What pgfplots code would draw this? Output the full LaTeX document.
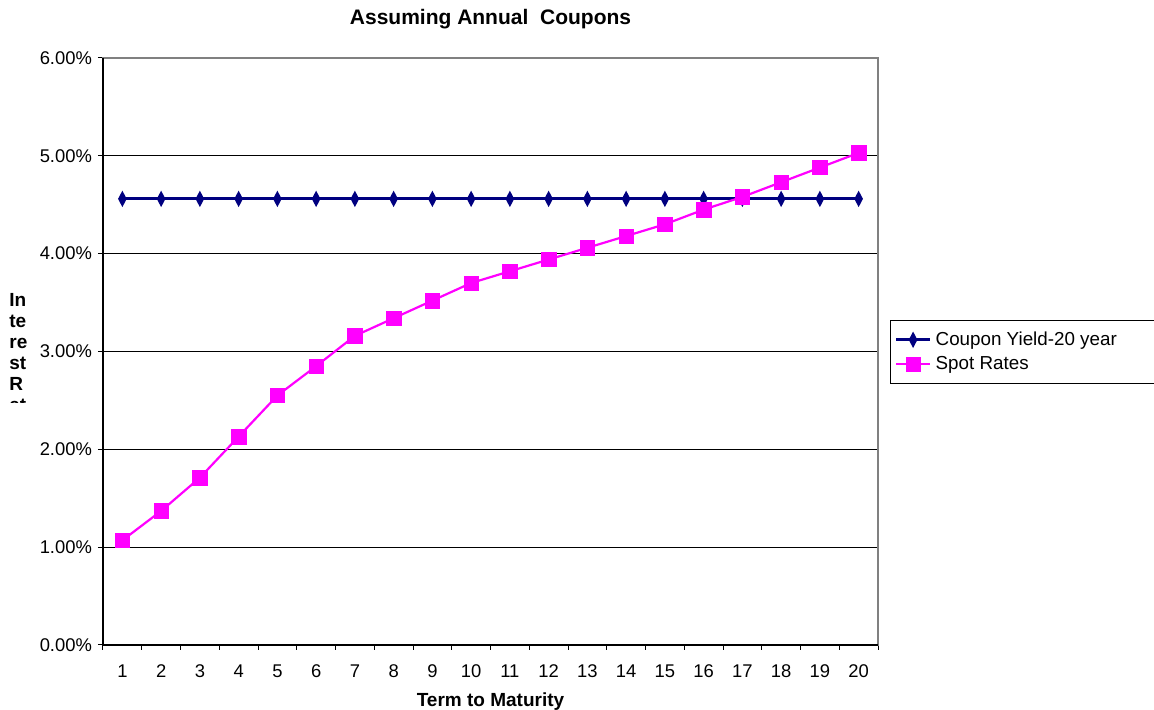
\documentclass[border=0pt]{standalone}
\usepackage{fontspec}
\setmainfont{Liberation Sans}
\usepackage{pgfplots}
\pgfplotsset{compat=1.18}
\definecolor{navy}{RGB}{0,0,128}
\definecolor{mag}{RGB}{255,0,255}
\definecolor{bord}{RGB}{128,128,128}
\begin{document}
\begin{tikzpicture}
\begin{axis}[
  scale only axis, width=387.5pt, height=293.5pt,
  at={(0pt,0pt)}, anchor=south west,
  xmin=0.5, xmax=20.5, ymin=0, ymax=6,
  xtick={1,...,20},
  xticklabels={1,2,3,4,5,6,7,8,9,10,11,12,13,14,15,16,17,18,19,20},
  minor xtick={0.5,1.5,...,20.5},
  major x tick style={draw=none},
  ytick={0,1,2,3,4,5,6},
  yticklabels={0.00\%,1.00\%,2.00\%,3.00\%,4.00\%,5.00\%,6.00\%},
  xtick pos=bottom, ytick pos=left,
  tick align=outside,
  major tick length=2.5pt, minor tick length=2.5pt,
  every tick/.style={black, line width=0.5pt},
  ymajorgrids, grid style={black, line width=0.5pt},
  axis line style={draw=bord, line width=1pt},
  tick label style={font=\fontsize{9.2}{11}\selectfont},
  /pgf/number format/assume math mode=true,
  xticklabel style={yshift=-4pt},
  yticklabel style={xshift=0.5pt},
  xlabel={\bfseries Term to Maturity},
  xlabel style={font=\fontsize{9.5}{11}\selectfont, yshift=-0.5pt},
  title={\bfseries Assuming Annual\ \ Coupons},
  title style={font=\fontsize{10.5}{12}\selectfont, yshift=5pt},
  legend style={at={(rel axis cs:1.0155,0.5537)}, anchor=north west,
    draw=black, line width=0.5pt, font=\fontsize{9.4}{11}\selectfont,
    cells={anchor=west}, inner xsep=2pt, inner ysep=3.5pt, row sep=0pt},
  clip=false,
]
\addplot[navy, line width=1.5pt, mark=diamond*, mark size=2.5pt,
  mark options={xscale=0.7, fill=navy, draw=navy}] coordinates {
(1,4.56)(2,4.56)(3,4.56)(4,4.56)(5,4.56)(6,4.56)(7,4.56)(8,4.56)(9,4.56)(10,4.56)
(11,4.56)(12,4.56)(13,4.56)(14,4.56)(15,4.56)(16,4.56)(17,4.56)(18,4.56)(19,4.56)(20,4.56)};
\addlegendentry{\makebox[125pt][l]{Coupon Yield-20 year}}
\addplot[mag, line width=1.1pt, mark=square*, mark size=3.6pt,
  mark options={fill=mag, draw=mag, line width=0.3pt}] coordinates {
(1,1.07)(2,1.37)(3,1.71)(4,2.13)(5,2.55)(6,2.85)(7,3.16)(8,3.34)(9,3.52)(10,3.70)
(11,3.82)(12,3.94)(13,4.06)(14,4.18)(15,4.30)(16,4.45)(17,4.58)(18,4.73)(19,4.88)(20,5.03)};
\addlegendentry{Spot Rates}
\draw[black, line width=1pt] (rel axis cs:0,1) -- (rel axis cs:0,0) -- (rel axis cs:1,0);
\end{axis}
\begin{scope}
\clip (-60pt,121pt) rectangle (-20pt,200pt);
\node[anchor=north west, align=left, inner sep=0pt, font=\fontsize{9.5}{10.5}\selectfont\bfseries]
  at (-47pt,176pt) {In\\te\\re\\st\\R\\at};
\end{scope}
\pgfresetboundingbox
\path[use as bounding box] (-51.5pt,-32.5pt) rectangle (525.5pt,322.5pt);
\end{tikzpicture}
\end{document}
